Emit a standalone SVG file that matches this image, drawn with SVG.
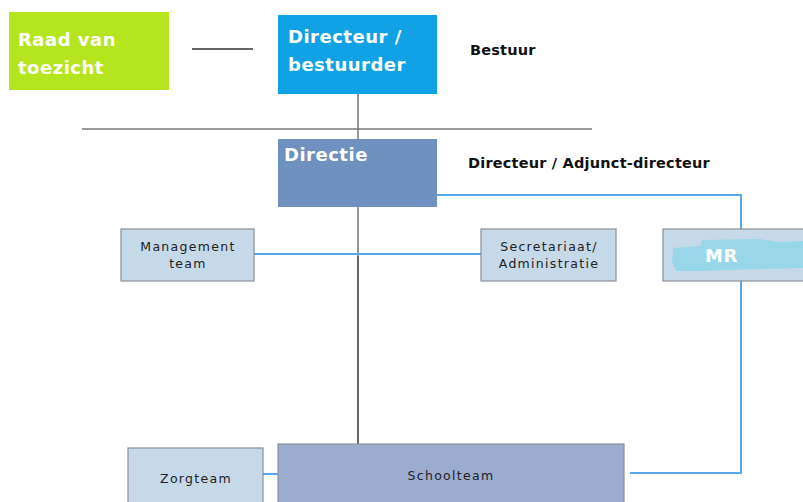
<svg xmlns="http://www.w3.org/2000/svg" width="803" height="502" viewBox="0 0 803 502">
<style>
.big{font-family:"DejaVu Sans","Liberation Sans",sans-serif;font-weight:bold;font-size:18px;letter-spacing:0.5px;fill:#ffffff}
.lab{font-family:"DejaVu Sans","Liberation Sans",sans-serif;font-weight:bold;font-size:14.5px;letter-spacing:0.2px;fill:#111111}
.sm{font-family:"DejaVu Sans","Liberation Sans",sans-serif;font-size:12.5px;fill:#222222;letter-spacing:1.3px}
.lbox{fill:#c6d9e8;stroke:#8a8f96;stroke-width:1.2}
.blue{stroke:#5aa6ec;stroke-width:2;fill:none}
.gray{stroke:#777777;stroke-width:1.5;fill:none}
</style>
<rect width="803" height="502" fill="#ffffff"/>
<g id="connectors">
<line class="gray" x1="358" y1="94" x2="358" y2="140"/>
<line class="gray" x1="82" y1="129" x2="592" y2="129"/>
<line x1="192" y1="49" x2="253" y2="49" stroke="#333" stroke-width="1.5"/>
<line class="gray" x1="358" y1="207" x2="358" y2="256"/>
<line x1="358" y1="256" x2="358" y2="444" stroke="#333" stroke-width="1.5"/>
<line class="blue" x1="254" y1="254" x2="481" y2="254"/>
<polyline class="blue" points="437,195 741,195 741,229"/>
<polyline class="blue" points="741,281 741,473 630,473"/>
<line class="blue" x1="263" y1="474" x2="278" y2="474"/>
</g>
<g id="raad">
<rect x="9" y="12" width="160" height="78" fill="#b5e51f"/>
<text class="big" x="18" y="46">Raad van</text>
<text class="big" x="18" y="74">toezicht</text>
</g>
<g id="directeur">
<rect x="278" y="15" width="159" height="79" fill="#11a2e6"/>
<text class="big" x="288" y="43">Directeur /</text>
<text class="big" x="288" y="71">bestuurder</text>
</g>
<g id="bestuur"><text class="lab" x="470" y="55">Bestuur</text></g>
<g id="directie">
<rect x="278" y="139" width="159" height="68" fill="#6e91c0"/>
<text class="big" x="284" y="161">Directie</text>
</g>
<g id="adjunct"><text class="lab" x="468" y="168">Directeur / Adjunct-directeur</text></g>
<g id="management">
<rect class="lbox" x="121" y="229" width="133" height="52"/>
<text class="sm" x="188" y="251" text-anchor="middle">Management</text>
<text class="sm" x="188" y="268" text-anchor="middle">team</text>
</g>
<g id="secretariaat">
<rect class="lbox" x="481" y="229" width="135" height="52"/>
<text class="sm" x="549" y="251" text-anchor="middle">Secretariaat/</text>
<text class="sm" x="549" y="268" text-anchor="middle">Administratie</text>
</g>
<g id="mr">
<rect class="lbox" x="663" y="229" width="145" height="52"/>
<path d="M673,248 L700,246 L702,240 L758,239 L780,242 L803,241 L803,268 L760,269 L700,271 L676,271 L672,262 Z" fill="#98d7ea"/>
<text class="big" x="705" y="262" font-size="17">MR</text>
</g>
<g id="zorgteam">
<rect class="lbox" x="128" y="448" width="135" height="60"/>
<text class="sm" x="196" y="483" text-anchor="middle">Zorgteam</text>
</g>
<g id="schoolteam">
<rect x="278" y="444" width="346" height="64" fill="#9aadd1" stroke="#8a8f96" stroke-width="1.2"/>
<text class="sm" x="451" y="480" text-anchor="middle">Schoolteam</text>
</g>
</svg>
